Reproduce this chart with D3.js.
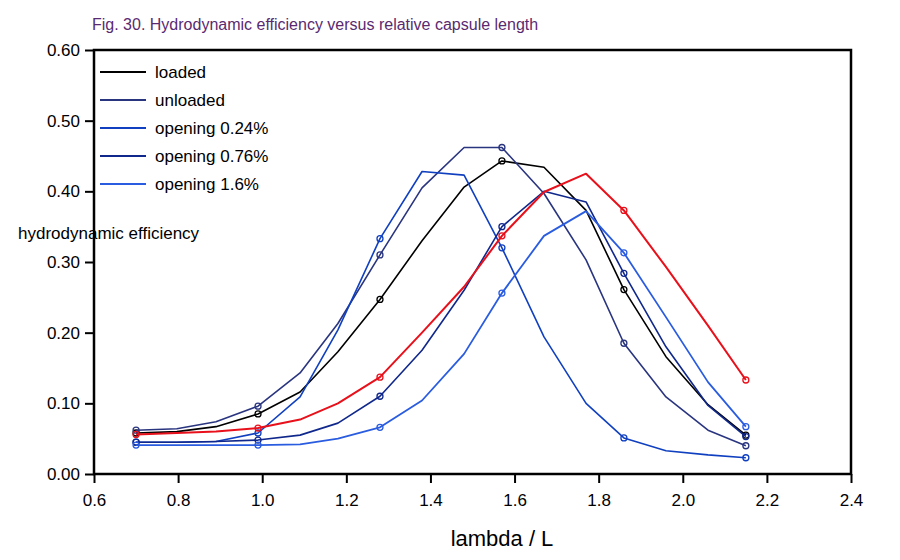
<!DOCTYPE html>
<html><head><meta charset="utf-8">
<script src="https://cdn.jsdelivr.net/npm/d3@7"></script>
<style>body{margin:0;background:#fff}svg{font-family:Arial,"Liberation Sans",sans-serif}</style>
</head><body>
<svg id="chart" width="900" height="560"></svg>
<script>
// lambda / L sample positions
var xs = [0.70,0.797,0.89,0.99,1.09,1.18,1.28,1.38,1.48,1.57,1.67,1.77,1.86,1.96,2.06,2.15];
var markerIdx = [0,3,6,9,12,15];

var loaded    = [0.058,0.060,0.067,0.085,0.116,0.173,0.247,0.330,0.406,0.443,0.434,0.373,0.261,0.166,0.098,0.055];
var unloaded  = [0.062,0.064,0.074,0.096,0.143,0.213,0.310,0.405,0.462,0.462,0.397,0.303,0.185,0.109,0.062,0.040];
var open024   = [0.045,0.045,0.046,0.058,0.109,0.204,0.333,0.428,0.423,0.320,0.194,0.100,0.051,0.033,0.027,0.023];
var open076   = [0.045,0.045,0.046,0.048,0.055,0.072,0.110,0.175,0.260,0.350,0.400,0.385,0.284,0.180,0.097,0.053];
var open16    = [0.041,0.041,0.041,0.041,0.042,0.050,0.066,0.104,0.170,0.256,0.337,0.372,0.313,0.222,0.130,0.067];
var redSeries = [0.056,0.058,0.060,0.065,0.077,0.100,0.137,0.200,0.265,0.337,0.399,0.425,0.373,0.293,0.210,0.133];

var series = [
  {name:"loaded", vals:loaded, color:"#000000", w:1.6, legend:true},
  {name:"unloaded", vals:unloaded, color:"#2a3580", w:1.6, legend:true},
  {name:"opening 0.24%", vals:open024, color:"#1040c0", w:1.6, legend:true},
  {name:"opening 0.76%", vals:open076, color:"#10288c", w:1.6, legend:true},
  {name:"opening 1.6%", vals:open16, color:"#2a5ce0", w:1.8, legend:true},
  {name:"", vals:redSeries, color:"#e8101a", w:2, legend:false}
];
var xTicks = [0.6,0.8,1.0,1.2,1.4,1.6,1.8,2.0,2.2,2.4];
var yTicks = [0,0.1,0.2,0.3,0.4,0.5,0.6];

var svg = d3.select("#chart");
var L=94, R=851, T=50, B=474;
var x = d3.scaleLinear().domain([0.6,2.4]).range([L,R]);
var y = d3.scaleLinear().domain([0,0.6]).range([B,T]);

svg.append("text").attr("x",92).attr("y",30).attr("fill","#5a2a70")
  .attr("font-size",16).text("Fig. 30. Hydrodynamic efficiency versus relative capsule length");

var xa = svg.append("g").attr("transform","translate(0,"+B+")")
  .call(d3.axisBottom(x).tickValues(xTicks).tickFormat(d3.format(".1f")).tickSize(9).tickSizeOuter(0));
var ya = svg.append("g").attr("transform","translate("+L+",0)")
  .call(d3.axisLeft(y).tickValues(yTicks).tickFormat(d3.format(".2f")).tickSize(9).tickSizeOuter(0));
[xa,ya].forEach(function(a){
  a.select(".domain").remove();
  a.selectAll("line").attr("stroke","#000").attr("stroke-width",2);
  a.selectAll("text").attr("font-size",17).attr("fill","#000").attr("font-family","Arial,'Liberation Sans',sans-serif");
});
xa.selectAll("text").attr("dy","1.15em");
ya.selectAll("text").attr("dx","-2");

svg.append("rect").attr("x",L).attr("y",T).attr("width",R-L).attr("height",B-T)
  .attr("fill","none").attr("stroke","#000").attr("stroke-width",2.5);

var line = d3.line().x(function(d,i){return x(xs[i]);}).y(function(d){return y(d);});
series.forEach(function(s){
  svg.append("path").datum(s.vals).attr("d",line).attr("fill","none")
    .attr("stroke",s.color).attr("stroke-width",s.w).attr("stroke-linejoin","round");
  svg.selectAll(null).data(markerIdx).enter().append("circle")
    .attr("cx",function(i){return x(xs[i]);}).attr("cy",function(i){return y(s.vals[i]);})
    .attr("r",3).attr("fill","none").attr("stroke",s.color).attr("stroke-width",1.3);
});

var lg = svg.append("g");
series.filter(function(s){return s.legend;}).forEach(function(s,i){
  var yy = 72 + i*28;
  lg.append("line").attr("x1",100).attr("x2",146).attr("y1",yy).attr("y2",yy)
    .attr("stroke",s.color).attr("stroke-width",2.2);
  lg.append("text").attr("x",155).attr("y",yy+6).attr("font-size",17).text(s.name);
});

svg.append("text").attr("x",18).attr("y",239).attr("font-size",17).text("hydrodynamic efficiency");
svg.append("text").attr("x",502).attr("y",546).attr("text-anchor","middle").attr("font-size",22).text("lambda / L");
</script>
</body></html>
